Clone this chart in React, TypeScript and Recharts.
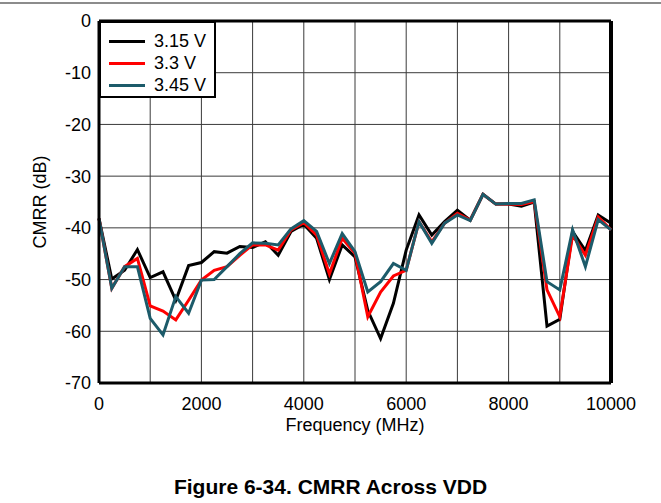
import React from 'react';
import { LineChart, Line, XAxis, YAxis, CartesianGrid, Legend, ReferenceLine } from 'recharts';

const freq = [
  0, 250, 500, 750, 1000, 1250, 1500, 1750, 2000, 2250, 2500, 2750, 3000, 3250,
  3500, 3750, 4000, 4250, 4500, 4750, 5000, 5250, 5500, 5750, 6000, 6250, 6500,
  6750, 7000, 7250, 7500, 7750, 8000, 8250, 8500, 8750, 9000, 9250, 9500, 9750, 10000,
];

const v315 = [
  -38.2, -49.9, -48.2, -44.2, -49.6, -48.5, -54.0, -47.3, -46.7, -44.6, -44.9, -43.6, -43.8, -42.7,
  -45.3, -40.7, -39.3, -42.0, -50.0, -43.3, -45.6, -56.0, -61.4, -54.6, -44.3, -37.5, -41.4,
  -38.8, -36.6, -38.5, -33.5, -35.4, -35.4, -35.8, -35.0, -59.0, -57.7, -40.7, -44.4, -37.5, -39.1,
];

const v33 = [
  -38.2, -51.7, -47.5, -45.9, -55.1, -56.1, -57.8, -54.0, -50.1, -48.2, -47.5, -45.3, -43.3, -43.3,
  -44.3, -40.4, -39.0, -41.4, -48.9, -42.0, -44.9, -57.2, -52.4, -49.3, -48.2, -38.8, -42.7,
  -39.1, -37.2, -38.5, -33.5, -35.4, -35.4, -35.5, -34.9, -52.0, -57.2, -41.4, -45.3, -37.9, -40.4,
];

const v345 = [
  -38.2, -51.7, -47.5, -47.5, -57.5, -60.7, -53.3, -56.5, -50.1, -50.0, -47.5, -45.0, -42.9, -43.0,
  -43.3, -40.2, -38.6, -40.7, -46.9, -41.1, -44.6, -52.4, -50.4, -46.9, -48.2, -38.8, -43.0,
  -39.1, -37.5, -38.6, -33.5, -35.4, -35.3, -35.3, -34.6, -50.4, -52.0, -40.4, -47.5, -38.4, -40.4,
];

const xTicks = [0, 1000, 2000, 3000, 4000, 5000, 6000, 7000, 8000, 9000, 10000];
const yTicks = [-70, -60, -50, -40, -30, -20, -10, 0];

const series = [
  { key: 'a', name: '3.15 V', color: '#000000', values: v315 },
  { key: 'b', name: '3.3 V', color: '#ff0000', values: v33 },
  { key: 'c', name: '3.45 V', color: '#1c5b6a', values: v345 },
];

const data = freq.map((f, i) => ({ f, a: v315[i], b: v33[i], c: v345[i] }));

const font = '"Liberation Sans", Arial, sans-serif';

const LegendBox = () => (
  <div
    style={{
      background: '#fff',
      border: '2px solid #000',
      boxSizing: 'border-box',
      width: 117,
      height: 77,
      padding: '8px 0 0 8px',
      fontFamily: font,
      fontSize: 18,
    }}
  >
    {series.map((s) => (
      <div key={s.key} style={{ display: 'flex', alignItems: 'center', height: 21.7 }}>
        <div style={{ width: 36, height: 3, background: s.color, marginRight: 9 }} />
        <span style={{ color: '#000', lineHeight: '21px', whiteSpace: 'nowrap' }}>{s.name}</span>
      </div>
    ))}
  </div>
);

const YLabel = () => (
  <text
    x={40}
    y={202}
    transform="rotate(-90 40 202)"
    textAnchor="middle"
    dominantBaseline="central"
    fontFamily={font}
    fontSize={18}
    fill="#000"
  >
    CMRR (dB)
  </text>
);

export default function App() {
  return (
    <div style={{ position: 'absolute', left: 0, top: 0, width: 661, height: 503, background: '#fff' }}>
      <div style={{ position: 'absolute', left: 0, top: 2, width: 661, height: 2, background: '#8c8c8c' }} />
      <LineChart
        width={661}
        height={503}
        data={data}
        margin={{ top: 21, right: 50, bottom: 70, left: 39 }}
      >
        <CartesianGrid stroke="#3a3a3a" strokeWidth={1} />
        <XAxis
          dataKey="f"
          type="number"
          domain={[0, 10000]}
          ticks={xTicks}
          interval={0}
          tickFormatter={(v: number) => (v % 2000 === 0 ? String(v) : '')}
          tickLine={false}
          tickMargin={8}
          height={50}
          axisLine={{ stroke: '#000', strokeWidth: 3 }}
          tick={{ fill: '#000', fontSize: 18, fontFamily: font }}
          label={{ value: 'Frequency (MHz)', position: 'insideBottom', offset: 2, fill: '#000', fontSize: 18, fontFamily: font }}
        />
        <YAxis
          type="number"
          domain={[-70, 0]}
          ticks={yTicks}
          interval={0}
          tickLine={false}
          width={60}
          axisLine={{ stroke: '#000', strokeWidth: 3 }}
          tick={{ fill: '#000', fontSize: 18, fontFamily: font }}
          label={{ content: () => <YLabel /> }}
        />
        <ReferenceLine y={0} stroke="#000" strokeWidth={3} />
        <ReferenceLine x={10000} stroke="#000" strokeWidth={4} />
        {series.map((s) => (
          <Line
            key={s.key}
            dataKey={s.key}
            name={s.name}
            stroke={s.color}
            strokeWidth={3}
            dot={false}
            isAnimationActive={false}
          />
        ))}
        <Legend
          layout="vertical"
          align="center"
          verticalAlign="middle"
          wrapperStyle={{ left: 99, top: 21, width: 'auto' }}
          content={() => <LegendBox />}
        />
      </LineChart>
      <div
        style={{
          position: 'absolute',
          left: 0,
          top: 475,
          width: 661,
          textAlign: 'center',
          fontFamily: font,
          fontWeight: 'bold',
          fontSize: 21,
          lineHeight: '24px',
          color: '#000',
        }}
      >
        Figure 6-34. CMRR Across VDD
      </div>
    </div>
  );
}
